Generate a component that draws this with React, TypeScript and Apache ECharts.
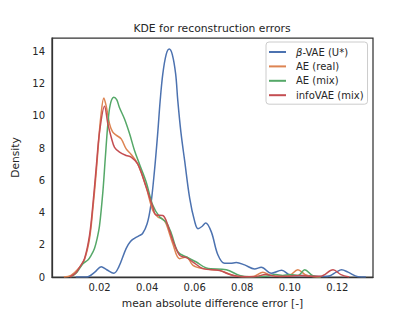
import React, { useEffect, useRef } from "react";
import * as echarts from "echarts";

const titleText = "KDE for reconstruction errors";
const seriesNames = ["β-VAE (U*)", "AE (real)", "AE (mix)", "infoVAE (mix)"];
const seriesColors = ["#4C72B0", "#DD8452", "#55A868", "#C44E52"];

const xTickLabels = ["0.02", "0.04", "0.06", "0.08", "0.10", "0.12"];

const betaX = [0.010, 0.0145, 0.018, 0.0207, 0.023, 0.026, 0.028, 0.0312, 0.033, 0.0347, 0.0365, 0.0381, 0.040, 0.0415, 0.0431, 0.0445, 0.0455, 0.0466, 0.048, 0.0493, 0.0506, 0.052, 0.0529, 0.0542, 0.0558, 0.0579, 0.060, 0.0614, 0.0632, 0.0646, 0.067, 0.0698, 0.0726, 0.075, 0.0775, 0.081, 0.0852, 0.088, 0.0922, 0.0966, 0.100, 0.103, 0.106, 0.110, 0.114, 0.117, 0.1195, 0.1218, 0.1245, 0.1287, 0.132];
const betaY = [0, 0, 0.3, 0.64, 0.45, 0.23, 0.6, 1.78, 2.2, 2.4, 2.55, 2.7, 3.3, 4.4, 6.6, 9.0, 10.95, 12.6, 13.8, 14.15, 13.8, 12.6, 10.95, 9.0, 7.2, 4.9, 3.45, 3.0, 3.15, 3.35, 2.8, 1.36, 0.85, 0.85, 0.9, 0.75, 0.5, 0.6, 0.23, 0.42, 0.12, 0.08, 0.1, 0.05, 0.03, 0.08, 0.3, 0.45, 0.3, 0.02, 0];

const aeRealX = [0.005, 0.008, 0.0116, 0.0137, 0.0158, 0.0172, 0.0186, 0.0195, 0.0205, 0.0218, 0.0228, 0.0242, 0.0255, 0.027, 0.0291, 0.0312, 0.0333, 0.0361, 0.0396, 0.0424, 0.0445, 0.0466, 0.048, 0.0508, 0.0537, 0.0565, 0.0593, 0.0635, 0.0705, 0.0761, 0.080, 0.085, 0.0887, 0.092, 0.096, 0.100, 0.1034, 0.1065, 0.110, 0.113];
const aeRealY = [0, 0.1, 0.6, 1.1, 2.4, 4.25, 6.5, 8.2, 9.9, 11.1, 10.6, 9.5, 9.0, 8.8, 8.57, 7.95, 7.6, 7.0, 5.58, 4.13, 3.72, 3.6, 3.3, 2.07, 1.14, 1.24, 0.72, 0.52, 0.41, 0.1, 0.02, 0.05, 0.3, 0.1, 0.03, 0.1, 0.45, 0.15, 0.02, 0];

const aeMixX = [0.008, 0.0105, 0.013, 0.0151, 0.0165, 0.0179, 0.019, 0.020, 0.0214, 0.0224, 0.0235, 0.0245, 0.026, 0.0272, 0.0284, 0.0305, 0.0326, 0.0347, 0.0368, 0.0396, 0.0424, 0.0453, 0.048, 0.0502, 0.053, 0.0565, 0.0607, 0.0649, 0.0733, 0.0789, 0.083, 0.090, 0.094, 0.097, 0.100, 0.1035, 0.1063, 0.1095, 0.113];
const aeMixY = [0, 0.3, 0.83, 1.05, 1.35, 1.78, 2.4, 3.2, 5.3, 7.35, 9.5, 10.7, 11.15, 11.0, 10.5, 9.8, 8.9, 7.85, 7.0, 5.9, 4.45, 3.72, 3.4, 2.7, 1.55, 1.24, 0.93, 0.56, 0.45, 0.1, 0.01, 0.05, 0.15, 0.1, 0.15, 0.1, 0.45, 0.1, 0];

const infoX = [0.0075, 0.010, 0.0116, 0.0137, 0.0158, 0.0172, 0.0186, 0.020, 0.0221, 0.0235, 0.0249, 0.0263, 0.0284, 0.0312, 0.0333, 0.0361, 0.0396, 0.0424, 0.0438, 0.0466, 0.048, 0.0508, 0.0537, 0.0565, 0.0593, 0.0635, 0.0705, 0.074, 0.078, 0.085, 0.090, 0.094, 0.100, 0.104, 0.108, 0.113, 0.1182, 0.1215, 0.125];
const infoY = [0, 0.25, 0.6, 1.15, 2.6, 4.5, 6.8, 9.0, 10.6, 9.5, 8.67, 8.05, 7.75, 7.54, 7.44, 7.0, 5.58, 4.34, 3.85, 3.82, 3.5, 2.27, 1.34, 1.2, 0.93, 0.52, 0.41, 0.2, 0.05, 0.02, 0.15, 0.05, 0.05, 0.1, 0.05, 0.05, 0.45, 0.15, 0];

const seriesX = [betaX, aeRealX, aeMixX, infoX];
const seriesY = [betaY, aeRealY, aeMixY, infoY];

const TEXT = "#262626";
const FONT = "DejaVu Sans";

export default function App() {
  const ref = useRef<HTMLDivElement>(null);
  useEffect(() => {
    if (!ref.current) return;
    const chart = echarts.init(ref.current, undefined, { renderer: "svg" });
    chart.setOption({
      animation: false,
      backgroundColor: "#ffffff",
      textStyle: { fontFamily: FONT, color: TEXT },
      graphic: [
        {
          type: "text",
          x: 212,
          y: 28,
          style: {
            text: titleText,
            fontFamily: FONT,
            fontSize: 10.8,
            fill: TEXT,
            textAlign: "center",
            textVerticalAlign: "middle",
          },
        },
      ],
      grid: {
        left: 52,
        right: 42,
        top: 38,
        bottom: 34,
        outerBoundsMode: "none",
        containLabel: false,
        show: true,
        borderColor: "#333333",
        borderWidth: 1.25,
        backgroundColor: "transparent",
      },
      legend: {
        left: 266,
        top: 42,
        orient: "vertical",
        data: seriesNames,
        itemWidth: 17,
        itemHeight: 2,
        itemGap: 2.4,
        icon: "rect",
        padding: [4, 4, 3, 3],
        borderColor: "#cccccc",
        borderWidth: 1,
        borderRadius: 3,
        backgroundColor: "rgba(255,255,255,0.8)",
        formatter: (name: string) =>
          name.startsWith("β") ? "{i|β}" + name.slice(1) : name,
        textStyle: {
          fontFamily: FONT,
          fontSize: 10,
          lineHeight: 12,
          color: TEXT,
          padding: [0, 0, 0, 5],
          rich: {
            i: { fontFamily: FONT, fontSize: 10, fontStyle: "italic", color: TEXT },
          },
        },
      },
      xAxis: {
        type: "value",
        min: 0,
        max: 0.135,
        interval: 0.02,
        name: "mean absolute difference error [-]",
        nameLocation: "middle",
        nameGap: 21,
        nameTextStyle: { fontFamily: FONT, fontSize: 10.7, color: TEXT },
        axisLine: { show: true, lineStyle: { color: "#333333", width: 1.25 } },
        axisTick: { show: false },
        splitLine: { show: false },
        axisLabel: {
          fontFamily: FONT,
          fontSize: 10,
          color: TEXT,
          margin: 5,
          showMinLabel: false,
          showMaxLabel: false,
          formatter: (v: number) => {
            const s = v.toFixed(2);
            return xTickLabels.includes(s) ? s : "";
          },
        },
      },
      yAxis: {
        type: "value",
        min: 0,
        max: 14.83,
        interval: 2,
        name: "Density",
        nameLocation: "middle",
        nameGap: 25.5,
        nameTextStyle: { fontFamily: FONT, fontSize: 10.7, color: TEXT },
        axisLine: { show: true, lineStyle: { color: "#333333", width: 1.25 } },
        axisTick: { show: false },
        splitLine: { show: false },
        axisLabel: {
          fontFamily: FONT,
          fontSize: 10,
          color: TEXT,
          margin: 7,
          showMaxLabel: false,
        },
      },
      series: seriesNames.map((name, i) => ({
        name,
        type: "line",
        data: seriesX[i].map((x, j) => [x, seriesY[i][j]]),
        showSymbol: false,
        symbol: "none",
        smooth: 0.35,
        lineStyle: { color: seriesColors[i], width: 1.5 },
        itemStyle: { color: seriesColors[i] },
        clip: true,
      })),
    });
    return () => chart.dispose();
  }, []);
  return (
    <div
      ref={ref}
      style={{ position: "fixed", left: 0, top: 0, width: 415, height: 311 }}
    />
  );
}
